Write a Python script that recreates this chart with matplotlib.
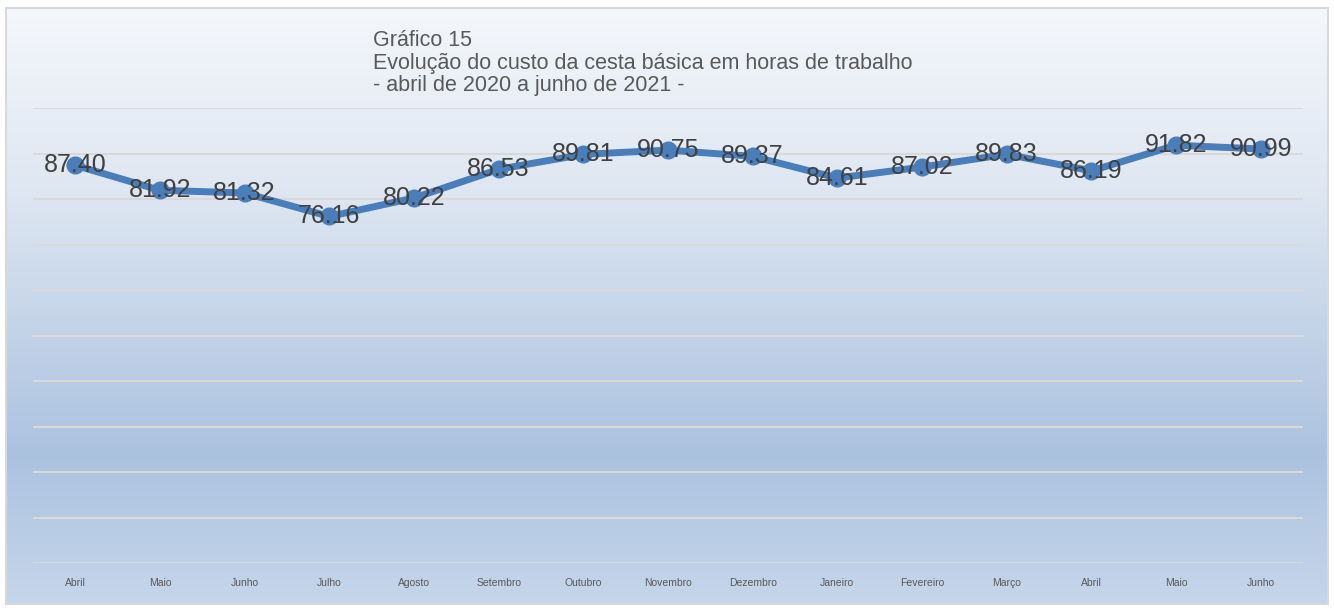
import matplotlib.pyplot as plt
import matplotlib.patches as mpatches
from matplotlib.colors import LinearSegmentedColormap
import numpy as np

plt.rcParams['font.family'] = ['Liberation Sans', 'DejaVu Sans']

meses = ["Abril", "Maio", "Junho", "Julho", "Agosto", "Setembro", "Outubro", "Novembro",
         "Dezembro", "Janeiro", "Fevereiro", "Março", "Abril", "Maio", "Junho"]
horas = [87.40, 81.92, 81.32, 76.16, 80.22, 86.53, 89.81, 90.75,
         89.37, 84.61, 87.02, 89.83, 86.19, 91.82, 90.99]
rotulos = ["87.40", "81.92", "81.32", "76.16", "80.22", "86.53", "89.81", "90.75",
           "89.37", "84.61", "87.02", "89.83", "86.19", "91.82", "90.99"]

W, H = 1334, 611
fig = plt.figure(figsize=(W / 100, H / 100), dpi=100)

# chart background with vertical gradient
bg = fig.add_axes([6 / W, 1 - 604 / H, 1322 / W, 596 / H])
grad = LinearSegmentedColormap.from_list(
    "bg", [(0.0, "#f4f7fb"), (0.3, "#dfe7f2"), (0.75, "#abc2df"), (1.0, "#c6d6eb")])
bg.imshow(np.linspace(0, 1, 256).reshape(-1, 1), aspect="auto", cmap=grad,
          extent=[0, 1, 0, 1], origin="upper")
bg.set_xlim(0, 1)
bg.set_ylim(0, 1)
bg.axis("off")
fig.patches.append(mpatches.Rectangle((6 / W, 1 - 604 / H), 1322 / W, 596 / H,
                                      transform=fig.transFigure, fill=False,
                                      edgecolor="#d9d9d9", linewidth=1.5, zorder=5))

ax = fig.add_axes([33 / W, 1 - 563 / H, 1270 / W, 455 / H])
ax.patch.set_alpha(0)
x = np.arange(len(horas))
ax.set_xlim(-0.5, len(horas) - 0.5)
ax.set_ylim(0, 100)
ax.set_yticks(np.arange(0, 101, 10))
ax.yaxis.grid(True, color="#d9d9d9", linewidth=1.5)
ax.set_axisbelow(True)
ax.tick_params(axis="y", left=False, labelleft=False)
ax.tick_params(axis="x", length=0, pad=11, labelsize=7.5, labelcolor="#595959")
ax.set_xticks(x)
ax.set_xticklabels(meses)
for s in ax.spines.values():
    s.set_visible(False)

ax.plot(x, horas, color="#4a7ebb", linewidth=5, marker="o", markersize=12,
        solid_capstyle="round", zorder=3)
for xi, yi, t in zip(x, horas, rotulos):
    ax.text(xi, yi, t, ha="center", va="center", fontsize=18, color="#404040", zorder=4)

fig.text(373 / W, 1 - 63 / H, "Gráfico 15\nEvolução do custo da cesta básica em horas de trabalho\n- abril de 2020 a junho de 2021 -",
         ha="left", va="center", fontsize=15.5, color="#595959", linespacing=1.07)

fig.savefig("out.png", dpi=100)
